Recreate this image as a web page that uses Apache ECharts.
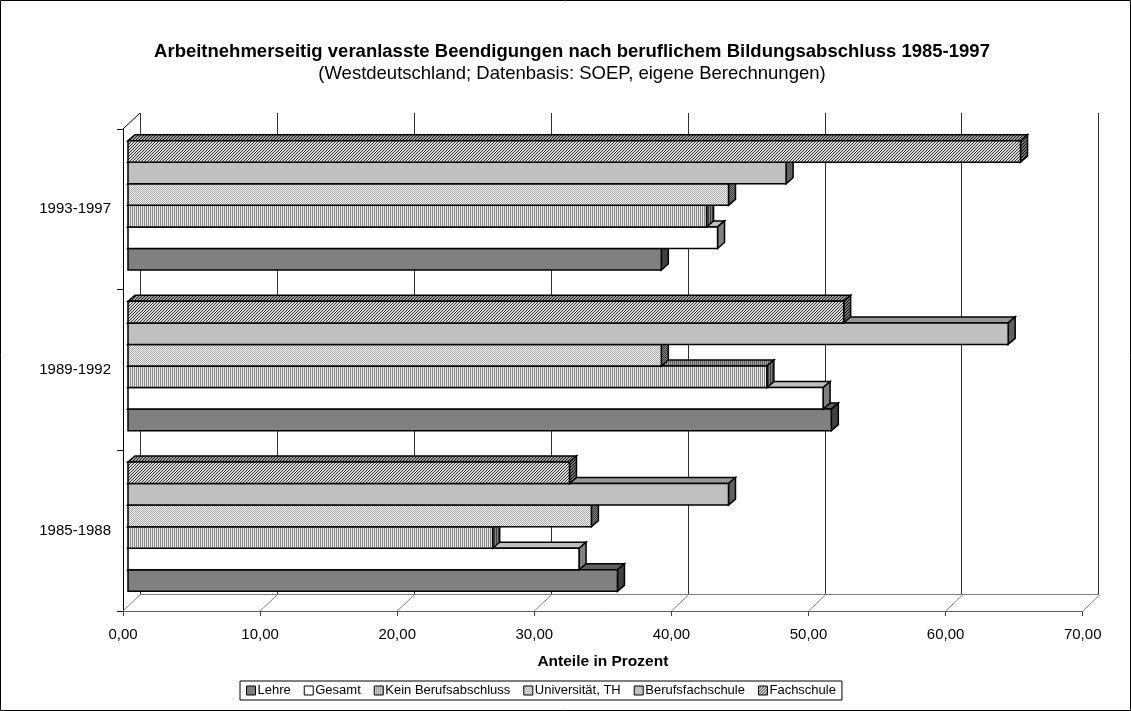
<!DOCTYPE html>
<html>
<head>
<meta charset="utf-8">
<script src="https://cdn.jsdelivr.net/npm/echarts@6/dist/echarts.min.js"></script>
<style>
html,body{margin:0;padding:0;background:#fff;}
#chart{width:1131px;height:711px;}
</style>
</head>
<body>
<div id="chart"></div>
<script>
// ---- data ----
const categories = ['1985-1988', '1989-1992', '1993-1997'];
const seriesNames = ['Lehre', 'Gesamt', 'Kein Berufsabschluss', 'Universität, TH', 'Berufsfachschule', 'Fachschule'];
const lehre            = [35.7, 51.3, 38.9];
const gesamt           = [32.9, 50.7, 43.0];
const keinAbschluss    = [26.6, 46.6, 42.2];
const universitaet     = [33.8, 38.9, 43.8];
const berufsfachschule = [43.8, 64.2, 48.0];
const fachschule       = [32.2, 52.2, 65.1];
const xTicks = [0, 10, 20, 30, 40, 50, 60, 70];

const values = [lehre, gesamt, keinAbschluss, universitaet, berufsfachschule, fachschule];

// ---- patterns ----
function pat(w, h, draw) {
  const c = document.createElement('canvas');
  c.width = w; c.height = h;
  const ctx = c.getContext('2d');
  draw(ctx);
  return { image: c, repeat: 'repeat' };
}
function solid(col) { return col; }
function vstripe(a, b) {
  return pat(2, 2, ctx => { ctx.fillStyle = b; ctx.fillRect(0, 0, 2, 2); ctx.fillStyle = a; ctx.fillRect(0, 0, 1, 2); });
}
function dots(a, b) {
  return pat(2, 2, ctx => { ctx.fillStyle = b; ctx.fillRect(0, 0, 2, 2); ctx.fillStyle = a; ctx.fillRect(0, 0, 1, 1); ctx.fillRect(1, 1, 1, 1); });
}
function hatch(a, b) {
  return pat(3, 3, ctx => {
    ctx.fillStyle = b; ctx.fillRect(0, 0, 3, 3);
    ctx.fillStyle = a;
    for (let i = 0; i < 3; i++) { ctx.fillRect(i, 2 - i, 1, 1); }
  });
}

const styles = [
  { front: solid('#808080'), top: solid('#606060'), side: solid('#404040'), legend: '#808080' },
  { front: solid('#ffffff'), top: solid('#c0c0c0'), side: solid('#808080'), legend: '#ffffff' },
  { front: vstripe('#8a8a8a', '#e6e6e6'), top: vstripe('#606060', '#a0a0a0'), side: vstripe('#404040', '#808080'), legend: '#b8b8b8' },
  { front: dots('#a8a8a8', '#f2f2f2'), top: dots('#707070', '#c0c0c0'), side: dots('#404040', '#808080'), legend: '#d0d0d0' },
  { front: solid('#c0c0c0'), top: solid('#969696'), side: solid('#606060'), legend: '#c0c0c0' },
  { front: hatch('#303030', '#dcdcdc'), top: hatch('#202020', '#a0a0a0'), side: hatch('#101010', '#707070'), legend: '#9a9a9a' }
];

const fmt = v => v.toFixed(2).replace('.', ',');
const DX = 7, DY = 6;          // bar depth
const WX = 17, WY = 16;        // wall depth

const barSeries = seriesNames.map((name, i) => ({
  name: name,
  type: 'custom',
  xAxisIndex: 2, yAxisIndex: 2,
  z: 10 + i,
  itemStyle: { color: styles[i].legend, borderColor: '#000', borderWidth: 1 },
  encode: { x: 0, y: 1 },
  data: values[i].map((v, c) => [v, c]),
  renderItem: function (params, api) {
    const end = api.coord([api.value(0), api.value(1)]);
    const start = api.coord([0, api.value(1)]);
    const band = api.size([0, 1])[1];
    const group = band * 0.805;
    const bh = group / 6;
    const bottom = end[1] + group / 2 - i * bh;
    const top = bottom - bh;
    const x0 = start[0], x1 = end[0];
    const st = styles[i];
    const line = { stroke: '#000', lineWidth: 1.5 };
    return {
      type: 'group',
      children: [
        { type: 'polygon', shape: { points: [[x0, top], [x0 + DX, top - DY], [x1 + DX, top - DY], [x1, top]] },
          style: Object.assign({ fill: st.top }, line) },
        { type: 'polygon', shape: { points: [[x1, top], [x1 + DX, top - DY], [x1 + DX, bottom - DY], [x1, bottom]] },
          style: Object.assign({ fill: st.side }, line) },
        { type: 'rect', shape: { x: x0, y: top, width: x1 - x0, height: bh },
          style: Object.assign({ fill: st.front }, line) }
      ]
    };
  }
}));

const frameSeries = {
  type: 'custom',
  xAxisIndex: 1, yAxisIndex: 1,
  z: 3,
  silent: true,
  legendHoverLink: false,
  encode: { x: 0, y: 1 },
  data: xTicks.map(v => [v, 0]),
  renderItem: function (params, api) {
    const cs = params.coordSys;
    const x = api.coord([api.value(0), 0])[0];
    const yb = cs.y + cs.height;
    const children = [
      { type: 'line', shape: { x1: x, y1: yb, x2: x + WX, y2: yb - WY }, style: { stroke: '#808080', lineWidth: 1 } }
    ];
    if (params.dataIndex === 0) {
      children.push({ type: 'line', shape: { x1: cs.x, y1: cs.y, x2: cs.x + WX, y2: cs.y - WY }, style: { stroke: '#000', lineWidth: 1 } });
    }
    return { type: 'group', children: children };
  }
};

const chart = echarts.init(document.getElementById('chart'), null, { renderer: 'canvas' });
const font = 'Arial, "Liberation Sans", sans-serif';
const plotW = 959.7, plotH = 482;

chart.setOption({
  backgroundColor: '#fff',
  animation: false,
  textStyle: { fontFamily: font, color: '#000' },
  title: {
    text: 'Arbeitnehmerseitig veranlasste Beendigungen nach beruflichem Bildungsabschluss 1985-1997',
    subtext: '(Westdeutschland; Datenbasis: SOEP, eigene Berechnungen)',
    left: 567, top: 37, textAlign: 'center',
    itemGap: 3,
    textStyle: { fontFamily: font, fontSize: 18.5, fontWeight: 'bold', color: '#000' },
    subtextStyle: { fontFamily: font, fontSize: 18.5, color: '#000' }
  },
  legend: {
    data: seriesNames.map((n, i) => ({ name: n, itemStyle: { color: styles[i].front } })),
    left: 240,
    top: 681,
    orient: 'horizontal',
    itemWidth: 9, itemHeight: 9,
    itemGap: 13,
    icon: 'rect',
    padding: [3, 6],
    borderColor: '#000', borderWidth: 1,
    itemStyle: { borderColor: '#000', borderWidth: 1 },
    textStyle: { fontFamily: font, fontSize: 13, color: '#000', padding: [0, 0, 0, -3] }
  },
  grid: [
    { left: 140, top: 113, width: plotW - 1, height: plotH - 1 },   // back wall
    { left: 123, top: 129, width: plotW, height: plotH },   // front axes
    { left: 128, top: 125, width: plotW, height: plotH }    // bar plane
  ],
  xAxis: [
    { gridIndex: 0, type: 'value', min: 0, max: 70, interval: 10,
      axisLine: { show: true, lineStyle: { color: '#808080' } }, axisTick: { show: false }, axisLabel: { show: false },
      splitLine: { show: true, lineStyle: { color: '#303030', width: 1 } } },
    { gridIndex: 1, type: 'value', min: 0, max: 70, interval: 10,
      name: 'Anteile in Prozent', nameLocation: 'middle', nameGap: 43,
      nameTextStyle: { fontFamily: font, fontSize: 15.5, fontWeight: 'bold', color: '#000' },
      axisLine: { show: true, onZero: false, lineStyle: { color: '#606060' } },
      axisTick: { show: true, length: 5, lineStyle: { color: '#404040' } },
      axisLabel: { formatter: fmt, fontSize: 15, margin: 16, color: '#000', fontFamily: font },
      splitLine: { show: false } },
    { gridIndex: 2, type: 'value', min: 0, max: 70, interval: 10, show: false }
  ],
  yAxis: [
    { gridIndex: 0, type: 'category', data: categories, show: false },
    { gridIndex: 1, type: 'category', data: categories,
      axisLine: { show: true, lineStyle: { color: '#000' } },
      axisTick: { show: true, length: 6, lineStyle: { color: '#000' } },
      axisLabel: { fontSize: 15, margin: 12, color: '#000', fontFamily: font },
      splitLine: { show: false } },
    { gridIndex: 2, type: 'category', data: categories, show: false }
  ],
  graphic: [
    { type: 'rect', shape: { x: 0.5, y: 0.5, width: 1130, height: 710 }, style: { fill: 'none', stroke: '#000', lineWidth: 1 }, silent: true }
  ],
  series: [frameSeries].concat(barSeries)
});
</script>
</body>
</html>
